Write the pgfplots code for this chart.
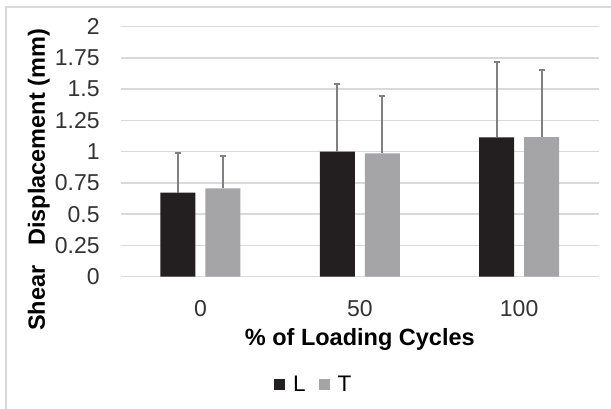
\documentclass[border=0pt]{standalone}
\usepackage{fontspec}
\setmainfont{Liberation Sans}
\usepackage{pgfplots}
\pgfplotsset{compat=1.18}
\usepackage{pgfplotstable}
\definecolor{barL}{HTML}{231F20}
\definecolor{barT}{HTML}{A5A5A8}
\definecolor{errc}{HTML}{808083}
\definecolor{gridc}{HTML}{D9D9D9}
\definecolor{tickc}{HTML}{333333}

\pgfplotstableread{
x L Lerr T Terr
0 0.672 0.320 0.707 0.261
1 1.000 0.544 0.987 0.458
2 1.115 0.600 1.117 0.534
}\datatable

\begin{document}
\begin{tikzpicture}
\begin{axis}[
  at={(0pt,0pt)}, anchor=south west,
  scale only axis, width=478pt, height=250pt,
  xmin=-0.5, xmax=2.5, ymin=0, ymax=2,
  ybar=10pt, bar width=35pt,
  xtick={0,1,2}, xticklabels={0,50,100},
  ytick={0,0.25,0.5,0.75,1,1.25,1.5,1.75,2},
  yticklabels={0,0.25,0.5,0.75,1,1.25,1.5,1.75,2},
  ymajorgrids, grid style={gridc, line width=1.5pt},
  axis line style={draw=none},
  major tick length=0pt,
  tick style={draw=none},
  tick label style={font=\fontsize{23}{25}\selectfont, text=tickc},
  yticklabel style={inner sep=0pt, anchor=east, xshift=-21pt},
  xticklabel style={inner sep=0pt, anchor=center, yshift=-32pt},
  xlabel={\% of Loading Cycles},
  x label style={font=\bfseries\fontsize{23.5}{26}\selectfont, at={(axis description cs:0.5,0)}, anchor=center, yshift=-63pt},
  ylabel={Shear\ \ \ Displacement (mm)},
  y label style={font=\bfseries\fontsize{23.5}{26}\selectfont, at={(axis description cs:-0.1715,0.387)}, anchor=center},
  legend style={at={(axis description cs:0.4015,-0.432)}, anchor=center, draw=none, fill=none,
    legend columns=2, font=\fontsize{22.5}{24}\selectfont,
    /tikz/every odd column/.append style={column sep=8pt},
    /tikz/every even column/.append style={column sep=13pt},
    nodes={inner sep=0pt}},
  legend image code/.code={\fill[#1] (0pt,-5.5pt) rectangle (11pt,5.5pt);},
  error bars/y dir=plus, error bars/y explicit,
  error bars/error bar style={errc, line width=2pt},
  error bars/error mark options={errc, rotate=90, mark size=3pt, line width=2pt},
]
\addplot[fill=barL, draw=none] table[x=x, y=L, y error=Lerr] {\datatable};
\addplot[fill=barT, draw=none] table[x=x, y=T, y error=Terr] {\datatable};
\legend{L,T}
\end{axis}
\draw[gridc, line width=1.5pt] (-114.8pt,-140pt) -- (-114.8pt,269.7pt) -- (500pt,269.7pt);
\pgfresetboundingbox
\path[use as bounding box] (-120.8pt,-132.3pt) rectangle (490.2pt,276.7pt);
\end{tikzpicture}
\end{document}
